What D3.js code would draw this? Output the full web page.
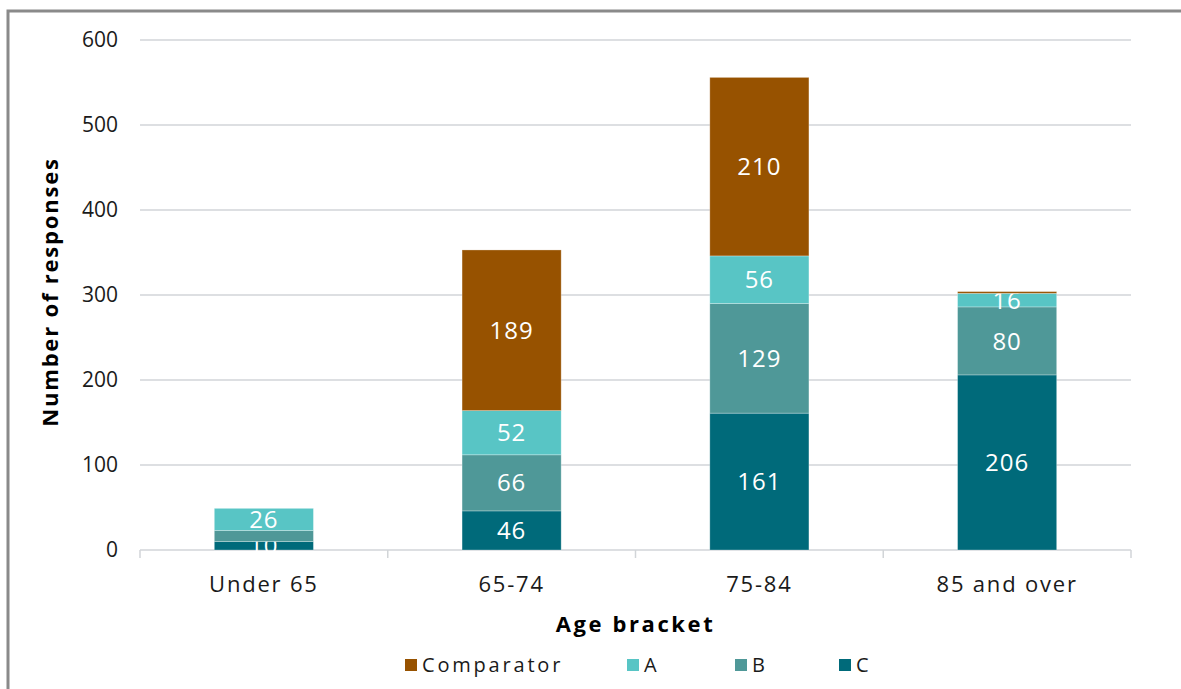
<!DOCTYPE html>
<html>
<head>
<meta charset="utf-8">
<script src="https://cdn.jsdelivr.net/npm/d3@7"></script>
<style>
  body { margin: 0; background: #fff; }
  svg { display: block; }
</style>
</head>
<body>
<div id="chart"></div>
<script>
// data
var categories = ["Under 65", "65-74", "75-84", "85 and over"];
var seriesNames = ["C", "B", "A", "Comparator"];
var cValues = [10, 46, 161, 206];
var bValues = [13, 66, 129, 80];
var aValues = [26, 52, 56, 16];
var comparatorValues = [0, 189, 210, 2];
var yTicks = [0, 100, 200, 300, 400, 500, 600];
var legendOrder = ["Comparator", "A", "B", "C"];
// labels the original leaves off (too small / hidden)
var hiddenLabels = ["B|Under 65"];

var colors = {
    "Comparator": "#975200",
    "A": "#58c5c5",
    "B": "#4f9898",
    "C": "#006a7a"
};

var width = 1181, height = 689;
var margin = { top: 40, right: 50, bottom: 139, left: 140 };
var font = "'Open Sans', sans-serif";

var svg = d3.select("#chart").append("svg")
    .attr("width", width)
    .attr("height", height);

// outer frame (runs off the right/bottom edges like the picture)
svg.append("rect")
    .attr("x", 8).attr("y", 11)
    .attr("width", 1200).attr("height", 720)
    .attr("fill", "none")
    .attr("stroke", "#8a8a8a")
    .attr("stroke-width", 3);

var rows = categories.map(function(c, i) {
    return { cat: c, C: cValues[i], B: bValues[i], A: aValues[i], Comparator: comparatorValues[i] };
});

var stacked = d3.stack().keys(seriesNames)(rows);

var xScale = d3.scaleBand()
    .domain(categories)
    .range([margin.left, width - margin.right])
    .paddingInner(0.6)
    .paddingOuter(0.3);

var yScale = d3.scaleLinear()
    .domain([0, 600])
    .range([height - margin.bottom, margin.top]);

// gridlines
svg.append("g")
    .selectAll("line")
    .data(yTicks)
    .enter().append("line")
    .attr("x1", margin.left)
    .attr("x2", width - margin.right)
    .attr("y1", d => yScale(d))
    .attr("y2", d => yScale(d))
    .attr("stroke", "#d2d5d8")
    .attr("stroke-width", 1.5);

// y tick labels
svg.append("g")
    .selectAll("text")
    .data(yTicks)
    .enter().append("text")
    .attr("x", 118)
    .attr("y", d => yScale(d))
    .attr("dy", "0.35em")
    .attr("text-anchor", "end")
    .attr("font-family", font)
    .attr("font-size", 21)
    .attr("fill", "#1a1a1a")
    .text(d => d);

// category boundary ticks on the x axis
var boundaries = d3.range(categories.length + 1).map(i => margin.left + i * (width - margin.right - margin.left) / categories.length);
svg.append("g")
    .selectAll("line")
    .data(boundaries)
    .enter().append("line")
    .attr("x1", d => d).attr("x2", d => d)
    .attr("y1", yScale(0)).attr("y2", yScale(0) + 8)
    .attr("stroke", "#d2d5d8")
    .attr("stroke-width", 1.5);

// bars
var layers = svg.append("g")
    .selectAll("g")
    .data(stacked)
    .enter().append("g")
    .attr("fill", d => colors[d.key]);

layers.selectAll("rect")
    .data(d => d.map(p => ({ key: d.key, p: p })))
    .enter().append("rect")
    .attr("x", d => xScale(d.p.data.cat))
    .attr("width", xScale.bandwidth())
    .attr("y", d => yScale(d.p[1]))
    .attr("height", d => yScale(d.p[0]) - yScale(d.p[1]))
    .attr("stroke", "#ffffff")
    .attr("stroke-opacity", 0.35)
    .attr("stroke-width", 0.8);

// value labels
layers.selectAll("text")
    .data(d => d.map(p => ({ key: d.key, p: p }))
        .filter(d => d.p[1] - d.p[0] >= 5 && hiddenLabels.indexOf(d.key + "|" + d.p.data.cat) < 0))
    .enter().append("text")
    .attr("x", d => xScale(d.p.data.cat) + xScale.bandwidth() / 2)
    .attr("y", d => (yScale(d.p[0]) + yScale(d.p[1])) / 2)
    .attr("dy", "0.36em")
    .attr("text-anchor", "middle")
    .attr("font-family", font)
    .attr("font-size", 24)
    .attr("letter-spacing", 1)
    .attr("fill", "#ffffff")
    .text(d => d.p[1] - d.p[0]);

// x category labels
svg.append("g")
    .selectAll("text")
    .data(categories)
    .enter().append("text")
    .attr("x", d => xScale(d) + xScale.bandwidth() / 2)
    .attr("y", 584)
    .attr("dy", "0.35em")
    .attr("text-anchor", "middle")
    .attr("font-family", font)
    .attr("font-size", 22)
    .attr("letter-spacing", 1.8)
    .attr("fill", "#1a1a1a")
    .text(d => d);

// axis titles
svg.append("text")
    .attr("x", (margin.left + width - margin.right) / 2)
    .attr("y", 624)
    .attr("dy", "0.35em")
    .attr("text-anchor", "middle")
    .attr("font-family", font)
    .attr("font-weight", "bold")
    .attr("font-size", 22)
    .attr("letter-spacing", 2.6)
    .attr("fill", "#000")
    .text("Age bracket");

svg.append("text")
    .attr("transform", "translate(50, 292) rotate(-90)")
    .attr("dy", "0.35em")
    .attr("text-anchor", "middle")
    .attr("font-family", font)
    .attr("font-weight", "bold")
    .attr("font-size", 22)
    .attr("letter-spacing", 1.8)
    .attr("fill", "#000")
    .text("Number of responses");

// legend
var legendX = [405, 627, 735, 839];
var legend = svg.append("g")
    .selectAll("g")
    .data(legendOrder)
    .enter().append("g")
    .attr("transform", (d, i) => `translate(${legendX[i]}, 665)`);

legend.append("rect")
    .attr("x", 0).attr("y", -6)
    .attr("width", 12).attr("height", 12)
    .attr("fill", d => colors[d]);

legend.append("text")
    .attr("x", 17)
    .attr("dy", "0.35em")
    .attr("font-family", font)
    .attr("font-size", 20)
    .attr("letter-spacing", 2.8)
    .attr("fill", "#1a1a1a")
    .text(d => d);
</script>
</body>
</html>
